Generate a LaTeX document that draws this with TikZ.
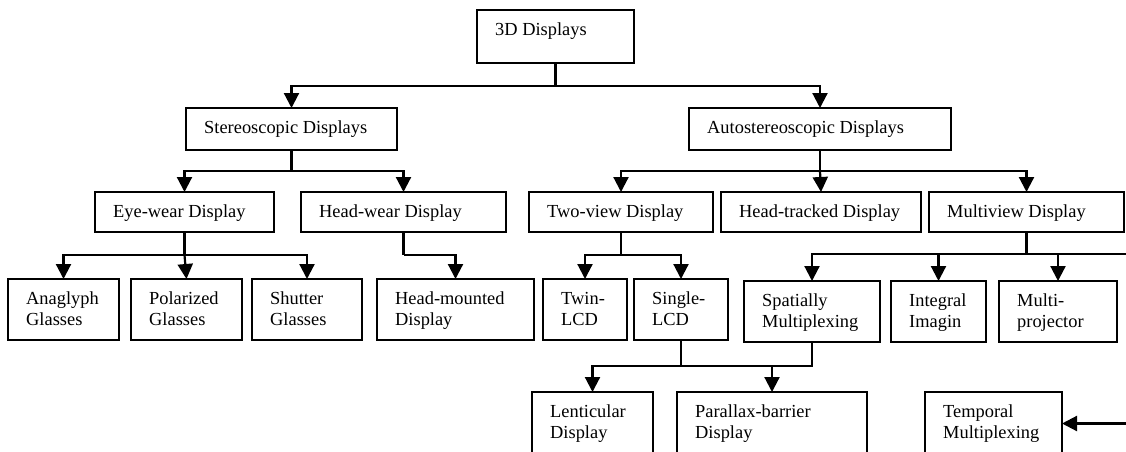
\documentclass[tikz,border=0pt]{standalone}
\usepackage{fontspec}
\setmainfont{Liberation Serif}
\usetikzlibrary{arrows.meta}
\tikzset{
  box/.style={draw, line width=2.2pt, anchor=north west, inner sep=0pt, outer sep=0pt},
  lbl/.style={anchor=base west, inner sep=0pt, font=\fontsize{18.4}{21}\selectfont},
  conn/.style={line width=2.2pt},
  arr/.style={conn, -{Triangle[width=15pt,length=15pt]}},
}
\newcommand\mybox[6]{%
  \node[box, minimum width={#4pt-#2pt}, minimum height={#5pt-#3pt}] (#1) at (#2,#3) {};
  \node[lbl] (#1-t) at ([shift={(18pt,-25.5pt)}]#1.north west) {\begin{tabular}[t]{@{}l@{}}#6\end{tabular}};
}
\begin{document}
\begin{tikzpicture}[x=1pt,y=-1pt]
\useasboundingbox (0,0) rectangle (1126,452);
\clip (0,0) rectangle (1126,452);
\mybox{d3}{477}{10}{634}{63}{3D Displays}
\mybox{stereo}{186}{108}{397}{150}{Stereoscopic Displays}
\mybox{auto}{689}{108}{951}{150}{Autostereoscopic Displays}
\mybox{eyewear}{95}{192}{274}{232}{Eye-wear Display}
\mybox{headwear}{301}{192}{506}{232}{Head-wear Display}
\mybox{twoview}{529}{192}{713}{232}{Two-view Display}
\mybox{headtracked}{721}{192}{921}{232}{Head-tracked Display}
\mybox{multiview}{929}{192}{1124}{232}{Multiview Display}
\mybox{anaglyph}{8}{279}{119}{340}{Anaglyph\\Glasses}
\mybox{polarized}{131}{279}{242}{340}{Polarized\\Glasses}
\mybox{shutter}{252}{279}{362}{340}{Shutter\\Glasses}
\mybox{headmounted}{377}{279}{534}{340}{Head-mounted\\Display}
\mybox{twin}{543}{279}{627}{340}{Twin-\\LCD}
\mybox{single}{634}{279}{728}{340}{Single-\\LCD}
\mybox{spatial}{744}{281}{880}{342}{Spatially\\Multiplexing}
\mybox{integral}{891}{281}{986}{342}{Integral\\Imagin}
\mybox{multiproj}{999}{281}{1117}{342}{Multi-\\projector}
\mybox{lenticular}{532}{392}{653}{455}{Lenticular\\Display}
\mybox{parallax}{677}{392}{867}{455}{Parallax-barrier\\Display}
\mybox{temporal}{925}{392}{1062}{455}{Temporal\\Multiplexing}
\coordinate (edge) at (1140,0);
% level 1
\draw[conn] (d3.south) -- ++(0,23) coordinate (j0);
\draw[arr] (j0) -| (stereo.north);
\draw[arr] (j0) -| (auto.north);
% level 2
\draw[conn] (stereo.south) -- ++(0,21) coordinate (j1);
\draw[arr] (j1) -| (eyewear.north);
\draw[arr] (j1) -| (headwear.north);
\draw[conn] (auto.south) -- ++(0,21) coordinate (j2);
\draw[arr] (j2) -| (twoview.north);
\draw[arr] (j2) -- (headtracked.north);
\draw[arr] (j2) -| (multiview.north);
% level 3
\draw[conn] (eyewear.south) -- ++(0,23) coordinate (j3);
\draw[arr] (j3) -| (anaglyph.north);
\draw[arr] (j3) -- (polarized.north);
\draw[arr] (j3) -| (shutter.north);
\draw[conn] (headwear.south) -- ++(0,23) coordinate (j4);
\draw[arr] (j4) -| (headmounted.north);
\draw[conn] (twoview.south) -- ++(0,23) coordinate (j5);
\draw[arr] (j5) -| (twin.north);
\draw[arr] (j5) -| (single.north);
\draw[conn] (multiview.south) -- ++(0,22) coordinate (j6);
\draw[arr] (j6) -| (spatial.north);
\draw[arr] (j6) -| (integral.north);
\draw[arr] (j6) -| (multiproj.north);
\draw[arr] (j6) -- (j6 -| edge) -- (edge |- temporal.east) -- (temporal.east);
% level 4
\draw[conn] (single.south) -- ++(0,26) coordinate (j7);
\draw[conn] (spatial.south) |- (j7);
\draw[arr] (j7) -| (lenticular.north);
\draw[arr] (j7) -| (parallax.north);
\end{tikzpicture}
\end{document}
